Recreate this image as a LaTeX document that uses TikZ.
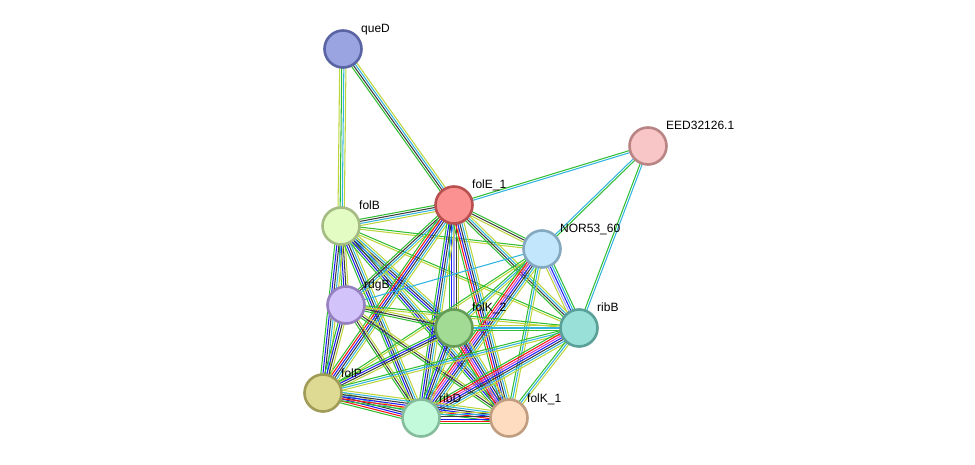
\documentclass[tikz,border=0pt]{standalone}
\usepackage{fontspec}
\setmainfont{Liberation Sans}
\usetikzlibrary{calc,backgrounds}
\definecolor{nb}{RGB}{50,190,50}
\definecolor{fu}{RGB}{250,20,20}
\definecolor{co}{RGB}{30,30,250}
\definecolor{ex}{RGB}{60,60,60}
\definecolor{xp}{RGB}{210,60,210}
\definecolor{db}{RGB}{50,180,225}
\definecolor{tm}{RGB}{190,212,60}
\definecolor{hm}{RGB}{165,160,250}
\tikzset{
  prot/.style={circle,minimum size=37pt,inner sep=0pt,line width=2.6pt},
  lbl/.style={anchor=base west,inner sep=0pt,font=\fontsize{12pt}{14pt}\selectfont},
  eline/.style={line width=1.05pt}
}
\newcommand\myedge[3]{%
  \foreach \c [count=\i] in {#3} {\xdef\nn{\i}}%
  \foreach \c [count=\i] in {#3} {%
    \pgfmathsetmacro\o{(\i-(\nn+1)/2)*2.1}%
    \draw[eline,\c] ($(#1)!\o pt!90:(#2)$) -- ($(#2)!\o pt!-90:(#1)$);
  }%
}
\newcommand\prot[5]{%
  \node[prot,draw=#4,fill=#5] (#1) at (#2) {};
  \node[lbl] (#1-l) at ([shift={(18,-16)}]#1.center) {#3};
}
\begin{document}
\begin{tikzpicture}[x=1pt,y=-1pt]
\useasboundingbox (0,0) rectangle (975,465);
\definecolor{a1}{HTML}{5A64A4}\definecolor{b1}{HTML}{9AA4E0}
\definecolor{a2}{HTML}{B88484}\definecolor{b2}{HTML}{F8C6C6}
\definecolor{a3}{HTML}{B85050}\definecolor{b3}{HTML}{FC9191}
\definecolor{a4}{HTML}{A4BC84}\definecolor{b4}{HTML}{E2FCC4}
\definecolor{a5}{HTML}{84A8C0}\definecolor{b5}{HTML}{C2E6FC}
\definecolor{a6}{HTML}{9680C0}\definecolor{b6}{HTML}{D2C4FA}
\definecolor{a7}{HTML}{649C58}\definecolor{b7}{HTML}{A2DC94}
\definecolor{a8}{HTML}{58A098}\definecolor{b8}{HTML}{98E0D8}
\definecolor{a9}{HTML}{A09C58}\definecolor{b9}{HTML}{DEDA94}
\definecolor{a10}{HTML}{84BC9C}\definecolor{b10}{HTML}{C4FADC}
\definecolor{a11}{HTML}{C09C80}\definecolor{b11}{HTML}{FEDCC0}
\prot{queD}{343,49}{queD}{a1}{b1}
\prot{EED}{648,146}{EED32126.1}{a2}{b2}
\prot{folEa}{454,205}{folE\_1}{a3}{b3}
\prot{folB}{341,226}{folB}{a4}{b4}
\prot{NOR}{542,249}{NOR53\_60}{a5}{b5}
\prot{rdgB}{346,305}{rdgB}{a6}{b6}
\prot{folKb}{454,328}{folK\_2}{a7}{b7}
\prot{ribB}{579,328}{ribB}{a8}{b8}
\prot{folP}{323,393}{folP}{a9}{b9}
\prot{ribD}{421,418}{ribD}{a10}{b10}
\prot{folKa}{509,418}{folK\_1}{a11}{b11}
\begin{scope}[on background layer]
\myedge{queD}{folB}{tm,nb,db,tm}
\myedge{queD}{folEa}{nb,ex,db,tm}
\myedge{EED}{folEa}{nb,db}
\myedge{EED}{NOR}{db,nb}
\myedge{EED}{ribB}{nb,db}
\myedge{folB}{folEa}{tm,db,ex,nb}
\myedge{folB}{NOR}{tm,nb}
\myedge{folB}{ribB}{tm,nb}
\myedge{folB}{folKb}{nb,co,ex,db,tm}
\myedge{folB}{rdgB}{nb,co,ex,tm}
\myedge{folB}{folP}{nb,co,ex,db,tm}
\myedge{folB}{ribD}{nb,co,ex,db,tm}
\myedge{folB}{folKa}{nb,co,ex,db,tm}
\myedge{folEa}{NOR}{tm,ex,nb}
\myedge{folEa}{ribB}{nb,ex,db,tm}
\myedge{folEa}{folKb}{nb,co,hm,ex,tm}
\myedge{folEa}{rdgB}{nb,ex,db,tm}
\myedge{folEa}{folP}{nb,fu,co,ex,db,tm}
\myedge{folEa}{ribD}{nb,co,ex,db,tm}
\myedge{folEa}{folKa}{nb,fu,co,ex,db,tm}
\myedge{NOR}{folKb}{nb,db,tm}
\myedge{NOR}{ribB}{tm,hm,co,db,nb}
\myedge{NOR}{rdgB}{db}
\myedge{NOR}{folP}{nb,tm}
\myedge{NOR}{ribD}{nb,fu,xp,co,ex,db,tm}
\myedge{NOR}{folKa}{nb,db,tm}
\myedge{rdgB}{folKb}{nb,ex,tm}
\myedge{rdgB}{ribB}{tm,nb}
\myedge{rdgB}{folP}{nb,co,ex,tm}
\myedge{rdgB}{ribD}{nb,ex,tm}
\myedge{rdgB}{folKa}{nb,ex,tm}
\myedge{folKb}{ribB}{nb,db,tm}
\myedge{folKb}{folP}{nb,co,ex,tm}
\myedge{folKb}{ribD}{nb,co,ex,db,tm}
\myedge{folKb}{folKa}{nb,fu,xp,co,ex,db,tm}
\myedge{ribB}{folP}{nb,db,tm}
\myedge{ribB}{ribD}{nb,fu,xp,co,ex,db,tm}
\myedge{ribB}{folKa}{nb,db,tm}
\myedge{folP}{ribD}{nb,fu,co,ex,db,tm}
\myedge{folP}{folKa}{nb,fu,co,ex,db,tm}
\myedge{ribD}{folKa}{nb,fu,co,ex,db,tm}
\end{scope}
\end{tikzpicture}
\end{document}
